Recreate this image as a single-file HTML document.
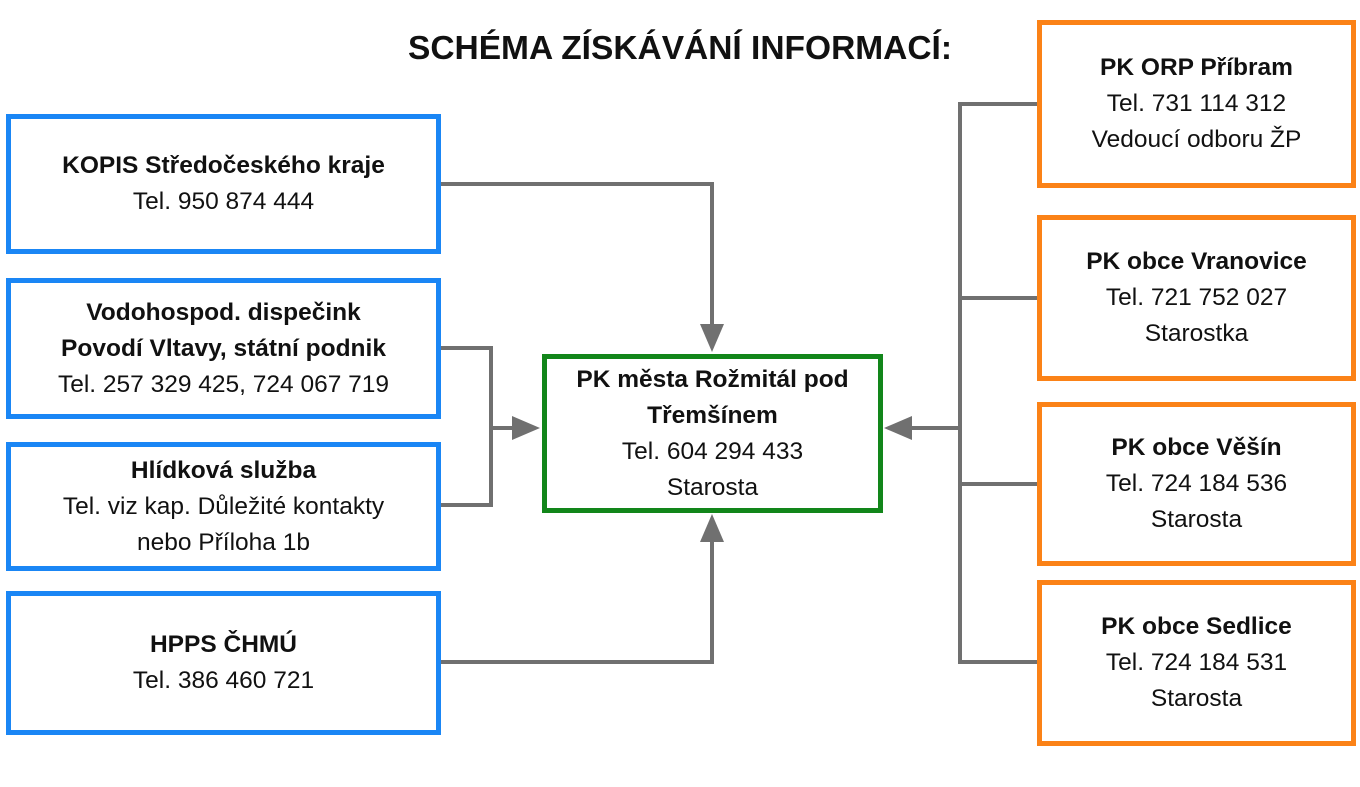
<!DOCTYPE html>
<html><head><meta charset="utf-8"><style>
body{margin:0;width:1360px;height:787px;background:#fff;position:relative;overflow:hidden;font-family:"Liberation Sans",sans-serif;color:#111}
.b{position:absolute;box-sizing:border-box;border:5px solid;display:flex;flex-direction:column;justify-content:center;align-items:center;text-align:center;font-size:24.5px;line-height:36px;white-space:nowrap}
.bl{border-color:#1a86f5}.or{border-color:#fb8217}.gr{border-color:#12861a}
b{font-weight:bold}
svg{position:absolute;left:0;top:0}
</style></head><body>
<div style="position:absolute;left:330px;top:30px;width:700px;text-align:center;font-weight:bold;font-size:33.5px">SCHÉMA ZÍSKÁVÁNÍ INFORMACÍ:</div>
<svg width="1360" height="787"><g stroke="#707070" stroke-width="4" fill="none">
<path d="M440 184H712V326"/><path d="M440 348H491V505H440"/><path d="M491 428H514"/><path d="M440 662H712V540"/>
<path d="M1037 104H960V662H1037M960 298H1037M960 484H1037M960 428H910"/></g>
<g fill="#707070"><path d="M700 324L724 324L712 352Z"/><path d="M512 416L512 440L540 428Z"/><path d="M700 542L724 542L712 514Z"/><path d="M912 416L912 440L884 428Z"/></g></svg>
<div class="b bl" style="left:6px;top:114px;width:435px;height:140px"><b>KOPIS Středočeského kraje</b>Tel. 950 874 444</div>
<div class="b bl" style="left:6px;top:278px;width:435px;height:141px"><b>Vodohospod. dispečink</b><b>Povodí Vltavy, státní podnik</b>Tel. 257 329 425, 724 067 719</div>
<div class="b bl" style="left:6px;top:442px;width:435px;height:129px"><b>Hlídková služba</b>Tel. viz kap. Důležité kontakty<br>nebo Příloha 1b</div>
<div class="b bl" style="left:6px;top:591px;width:435px;height:144px"><b>HPPS ČHMÚ</b>Tel. 386 460 721</div>
<div class="b gr" style="left:542px;top:354px;width:341px;height:159px"><b>PK města Rožmitál pod<br>Třemšínem</b>Tel. 604 294 433<br>Starosta</div>
<div class="b or" style="left:1037px;top:20px;width:319px;height:168px"><b>PK ORP Příbram</b>Tel. 731 114 312<br>Vedoucí odboru ŽP</div>
<div class="b or" style="left:1037px;top:215px;width:319px;height:166px"><b>PK obce Vranovice</b>Tel. 721 752 027<br>Starostka</div>
<div class="b or" style="left:1037px;top:402px;width:319px;height:164px"><b>PK obce Věšín</b>Tel. 724 184 536<br>Starosta</div>
<div class="b or" style="left:1037px;top:580px;width:319px;height:166px"><b>PK obce Sedlice</b>Tel. 724 184 531<br>Starosta</div>
</body></html>
